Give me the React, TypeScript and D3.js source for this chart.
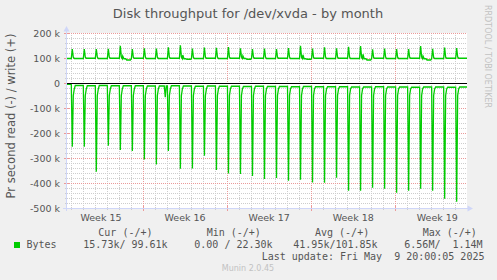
import React from 'react';
import * as d3 from 'd3';

const TITLE = 'Disk throughput for /dev/xvda - by month';
const Y_LABEL = 'Pr second read (-) / write (+)';
const WATERMARK = 'RRDTOOL / TOBI OETIKER';
const Y_TICKS_K = [200, 100, 0, -100, -200, -300, -400, -500];
const Y_TICK_LABELS = ['200 k', '100 k', '0', '-100 k', '-200 k', '-300 k', '-400 k', '-500 k'];
const WEEK_LABELS = ['Week 15', 'Week 16', 'Week 17', 'Week 18', 'Week 19'];
const WEEK_STARTS = [6.33, 13.33, 20.33, 27.33]; // days from graph start
const FIRST_MIDNIGHT = 0.33;
const SPAN_DAYS = 33.3;
const SPIKE_TIME = 0.44; // daily job, fraction of day after graph start

// daily peaks (k bytes / s)
const READ_PEAK_K = [255, 255, 355, 251, 268, 272, 306, 326, 272, 343, 342, 291, 348, 362, 364, 372, 384, 380, 391, 387, 398, 399, 379, 431, 431, 419, 423, 439, 431, 423, 431, 463, 475];
const WRITE_PEAK_K = [136, 136, 136, 137, 149, 136, 139, 138, 143, 151, 138, 142, 141, 144, 139, 136, 138, 136, 140, 149, 138, 143, 139, 145, 148, 135, 138, 136, 136, 148, 137, 142, 140];
// level between spikes
const READ_START_K = 5;
const READ_BASE_K = [10, 11, 10, 11, 11, 11, 12, 12, 11, 12, 13, 12, 13, 13, 14, 13, 14, 14, 15, 14, 15, 15, 15, 16, 16, 15, 16, 16, 17, 16, 16, 17, 16];
const READ_RECOVERY_K = [50, 24];
const WRITE_START_K = 98;
const WRITE_BASE_K = [98, 99, 98, 99, 97, 99, 98, 98, 99, 97, 98, 99, 98, 99, 98, 99, 98, 99, 98, 97, 99, 98, 99, 98, 97, 99, 98, 98, 99, 97, 98, 99, 99];
// secondary bumps after some spikes
const WRITE_BUMP_DAYS = [4, 9, 14, 19, 24, 29];
const WRITE_BUMP_K = [108, 112, 109, 113, 115, 108];
const WRITE_DIP_K = [92, 95, 95, 95, 92, 92];
const READ_DIP_DAY = 7;
const READ_DIP_K = 57;

const LEGEND_HEAD = ['Cur (-/+)', 'Min (-/+)', 'Avg (-/+)', 'Max (-/+)'];
const LEGEND_VALUES = ['15.73k/ 99.61k', '0.00 / 22.30k', '41.95k/101.85k', '6.56M/  1.14M'];
const LEGEND_NAME = 'Bytes';
const LAST_UPDATE = 'Last update: Fri May  9 20:00:05 2025';
const MUNIN = 'Munin 2.0.45';

const W = 497;
const H = 280;
const L = 67, R = 467, T = 33, B = 208;
const GREEN = '#00cc00';
const FONT = '#555555';
const AXIS = '#cfd6f8';
const GRID = '#cdcdcd';
const MGRID = '#eb9a9a';

export default function App() {
  const x = d3.scaleLinear().domain([0, SPAN_DAYS]).range([L, R]);
  const y = d3.scaleLinear().domain([-500, 200]).range([B, T]);
  const P = 1 / 12;

  const readPts: [number, number][] = [[0, -READ_START_K]];
  const writePts: [number, number][] = [[0, WRITE_START_K]];
  READ_PEAK_K.forEach((pk, i) => {
    const s = SPIKE_TIME + i;
    const prevR = i === 0 ? READ_START_K : READ_BASE_K[i - 1];
    readPts.push([s - P, -prevR], [s, -pk], [s + P, -READ_RECOVERY_K[0]], [s + 2 * P, -READ_RECOVERY_K[1]], [s + 3 * P, -READ_BASE_K[i]]);
    if (i === READ_DIP_DAY) {
      readPts.push([s + 0.74 - P, -READ_BASE_K[i]], [s + 0.74, -READ_DIP_K], [s + 0.74 + P, -READ_BASE_K[i]]);
    }
    const prevW = i === 0 ? WRITE_START_K : WRITE_BASE_K[i - 1];
    writePts.push([s - P, prevW], [s, WRITE_PEAK_K[i]], [s + P, prevW + 5], [s + 2 * P, WRITE_BASE_K[i]]);
    const bi = WRITE_BUMP_DAYS.indexOf(i);
    if (bi >= 0) {
      writePts.push([s + 0.2, WRITE_BUMP_K[bi]], [s + 0.3, WRITE_BASE_K[i]], [s + 0.45, WRITE_BASE_K[i]], [s + 0.53, WRITE_DIP_K[bi]], [s + 0.84, WRITE_DIP_K[bi]], [s + 0.9, WRITE_BASE_K[i]]);
    }
  });
  readPts.push([SPAN_DAYS, -READ_BASE_K[READ_BASE_K.length - 1]]);
  writePts.push([SPAN_DAYS, WRITE_BASE_K[WRITE_BASE_K.length - 1]]);

  const line = d3.line<[number, number]>().x(d => x(d[0])).y(d => y(d[1]));

  const minorY: number[] = d3.range(-500, 201, 20).filter(v => v % 100 !== 0);
  const dayLines: number[] = d3.range(FIRST_MIDNIGHT, SPAN_DAYS, 1).filter(d => !WEEK_STARTS.some(w => Math.abs(w - d) < 0.01));
  const weekCenters = [WEEK_STARTS[0] - 3.5, ...WEEK_STARTS.map(w => w + 3.5)];

  const px = (v: number) => Math.round(v) + 0.5;

  return (
    <svg width={W} height={H} style={{ position: 'absolute', left: 0, top: 0 }} fontFamily="'DejaVu Sans', sans-serif">
      <rect width={W} height={H} fill="#f0f0f0" />
      <rect x={L} y={T} width={R - L} height={B - T} fill="#ffffff" />
      {/* minor grid */}
      {minorY.map(v => (
        <line key={'my' + v} x1={L} x2={R} y1={px(y(v))} y2={px(y(v))} stroke={GRID} strokeDasharray="1 1" />
      ))}
      {dayLines.map(d => (
        <line key={'dx' + d} x1={px(x(d))} x2={px(x(d))} y1={T} y2={B} stroke={GRID} strokeDasharray="1 1" />
      ))}
      {/* major grid */}
      {Y_TICKS_K.map(v => (
        <line key={'My' + v} x1={L} x2={R} y1={px(y(v))} y2={px(y(v))} stroke={MGRID} strokeDasharray="1 1" />
      ))}
      {WEEK_STARTS.map(w => (
        <line key={'Mx' + w} x1={px(x(w))} x2={px(x(w))} y1={T} y2={B} stroke={MGRID} strokeDasharray="1 1" />
      ))}
      {/* ticks */}
      {minorY.map(v => (
        <line key={'ty' + v} x1={L - 2} x2={L + 1} y1={px(y(v))} y2={px(y(v))} stroke={GRID} />
      ))}
      {Y_TICKS_K.map(v => (
        <line key={'tY' + v} x1={L - 3} x2={L + 2} y1={px(y(v))} y2={px(y(v))} stroke={MGRID} />
      ))}
      {dayLines.map(d => (
        <line key={'tx' + d} x1={px(x(d))} x2={px(x(d))} y1={B - 1} y2={B + 2} stroke={GRID} />
      ))}
      {WEEK_STARTS.map(w => (
        <line key={'tX' + w} x1={px(x(w))} x2={px(x(w))} y1={B - 2} y2={B + 3} stroke={MGRID} />
      ))}
      {/* data */}
      <path d={line(writePts) || ''} fill="none" stroke={GREEN} strokeWidth={1.3} />
      <path d={line(readPts) || ''} fill="none" stroke={GREEN} strokeWidth={1.3} />
      {/* zero line */}
      <line x1={L} x2={R} y1={px(y(0))} y2={px(y(0))} stroke="#000000" />
      {/* axes */}
      <line x1={L - 0.5} x2={L - 0.5} y1={B + 3} y2={T - 4} stroke={AXIS} />
      <line x1={L - 4} x2={R + 3} y1={B + 0.5} y2={B + 0.5} stroke={AXIS} />
      <path d={`M${L - 3.5},${T - 1.5} L${L - 0.5},${T - 7} L${L + 2.5},${T - 1.5} Z`} fill={AXIS} />
      <path d={`M${R + 0.5},${B - 2.5} L${R + 6},${B + 0.5} L${R + 0.5},${B + 3.5} Z`} fill={AXIS} />
      {/* y tick labels */}
      {Y_TICKS_K.map((v, i) => (
        <text key={'yl' + v} x={60} y={y(v) + 3.5} textAnchor="end" fontSize={9.5} fill={FONT}>{Y_TICK_LABELS[i]}</text>
      ))}
      {/* x labels */}
      {weekCenters.map((c, i) => (
        <text key={'wl' + i} x={x(c)} y={221} textAnchor="middle" fontSize={9.5} fill={FONT}>{WEEK_LABELS[i]}</text>
      ))}
      {/* title */}
      <text x={248} y={18} textAnchor="middle" fontSize={13} fill={FONT}>{TITLE}</text>
      {/* y label */}
      <text transform={`translate(15,116) rotate(-90)`} textAnchor="middle" fontSize={11.5} fill={FONT}>{Y_LABEL}</text>
      {/* watermark */}
      <text transform={`translate(485,5) rotate(90)`} fontSize={8} fill="#c2c2c2">{WATERMARK}</text>
      {/* legend */}
      <g fontFamily="'DejaVu Sans Mono', monospace" fontSize={10} fill={FONT} style={{ whiteSpace: 'pre' }}>
        <text x={98.3} y={235.5} xmlSpace="preserve">{LEGEND_HEAD[0]}</text>
        <text x={206.7} y={235.5} xmlSpace="preserve">{LEGEND_HEAD[1]}</text>
        <text x={315} y={235.5} xmlSpace="preserve">{LEGEND_HEAD[2]}</text>
        <text x={422.7} y={235.5} xmlSpace="preserve">{LEGEND_HEAD[3]}</text>
        <text x={26.5} y={247.5} xmlSpace="preserve">{LEGEND_NAME}</text>
        <text x={83.3} y={247.5} xmlSpace="preserve">{LEGEND_VALUES[0]}</text>
        <text x={194.3} y={247.5} xmlSpace="preserve">{LEGEND_VALUES[1]}</text>
        <text x={293.3} y={247.5} xmlSpace="preserve">{LEGEND_VALUES[2]}</text>
        <text x={404.3} y={247.5} xmlSpace="preserve">{LEGEND_VALUES[3]}</text>
        <text x={261.7} y={259.5} xmlSpace="preserve">{LAST_UPDATE}</text>
      </g>
      <rect x={14} y={242} width={6} height={6} fill={GREEN} />
      <text x={248} y={271} textAnchor="middle" fontSize={8} fill="#c2c2c2">{MUNIN}</text>
    </svg>
  );
}
